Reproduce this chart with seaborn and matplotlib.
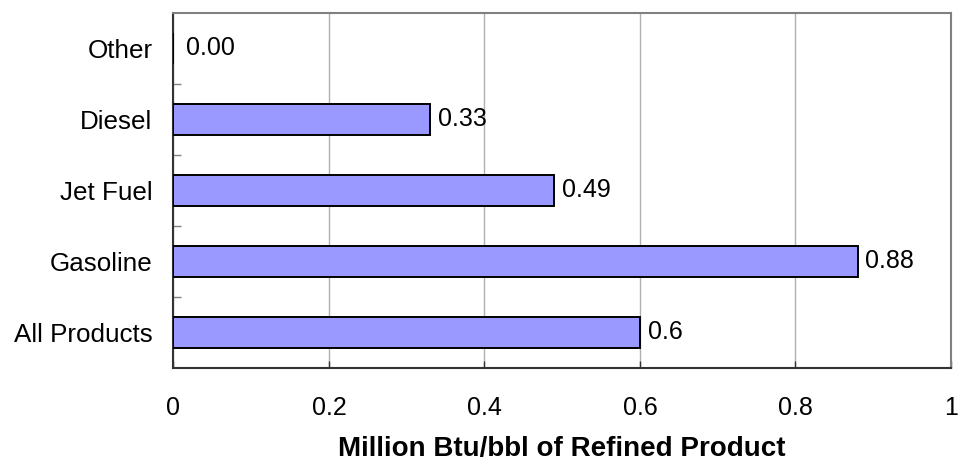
import matplotlib
matplotlib.use("Agg")
import matplotlib.pyplot as plt
import seaborn as sns
import pandas as pd
from matplotlib.ticker import FixedLocator

categories = ["Other", "Diesel", "Jet Fuel", "Gasoline", "All Products"]
values = [0.00, 0.33, 0.49, 0.88, 0.60]
value_labels = ["0.00", "0.33", "0.49", "0.88", "0.6"]
x_ticks = [0, 0.2, 0.4, 0.6, 0.8, 1]
x_tick_labels = ["0", "0.2", "0.4", "0.6", "0.8", "1"]

sns.set_theme(style="white")
plt.rcParams["font.family"] = ["Liberation Sans", "DejaVu Sans"]

FS = 18

df = pd.DataFrame({"product": categories, "value": values})

fig = plt.figure(figsize=(9.58, 4.62), dpi=100)
ax = fig.add_axes([0.181, 0.2035, 0.8117, 0.769])

sns.barplot(data=df, x="value", y="product", orient="h", color="#9999FF",
            saturation=1, width=0.43, edgecolor="black", linewidth=1.4,
            ax=ax, zorder=3)

ax.set_xlim(0, 1)
ax.set_ylim(4.5, -0.5)
ax.set_xticks(x_ticks)
ax.set_xticklabels(x_tick_labels, fontsize=FS)
ax.tick_params(axis="x", direction="in", length=5, width=1, color="#333333",
               pad=20, bottom=True)
ax.tick_params(axis="y", which="major", length=0, pad=15, labelsize=18.7)
ax.yaxis.set_minor_locator(FixedLocator([0.5, 1.5, 2.5, 3.5]))
ax.tick_params(axis="y", which="minor", direction="in", length=6, width=1,
               color="#808080", left=True)
for lab in ax.get_yticklabels() + ax.get_xticklabels():
    lab.set_color("black")

ax.grid(axis="x", color="#B0B0B0", linewidth=1, zorder=0)
ax.set_axisbelow(True)

for side in ["left", "bottom"]:
    ax.spines[side].set_color("#333333")
    ax.spines[side].set_linewidth(1.5)
for side in ["top", "right"]:
    ax.spines[side].set_color("#808080")
    ax.spines[side].set_linewidth(1.5)

ax.set_ylabel("")
ax.set_xlabel("Million Btu/bbl of Refined Product", fontsize=20,
              fontweight="bold", color="black", labelpad=12)

for i, (v, txt) in enumerate(zip(values, value_labels)):
    off = 9 if v == 0 else 5.5
    ax.annotate(txt, xy=(v, i), xytext=(off, 0), textcoords="offset points",
                va="center", ha="left", fontsize=FS, color="black", zorder=4)

fig.savefig("out.png", dpi=100)
